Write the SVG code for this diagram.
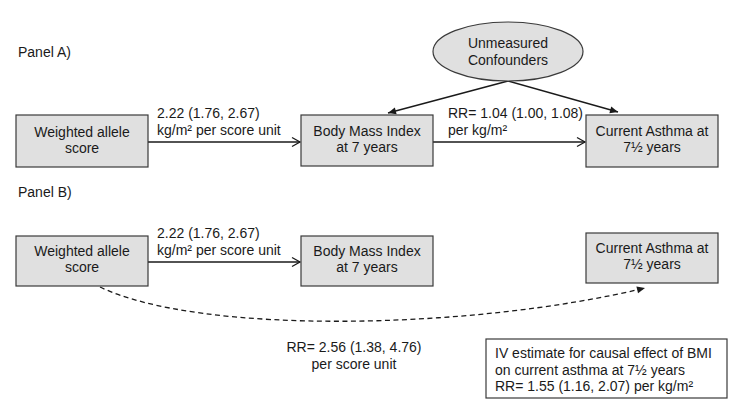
<svg xmlns="http://www.w3.org/2000/svg" width="745" height="419" viewBox="0 0 745 419">
<style>
text{font-family:"Liberation Sans",Arial,sans-serif;font-size:14px;fill:#1a1a1a}
.c{text-anchor:middle}
.box{fill:#e0e0e0;stroke:#3a3a3a;stroke-width:1.2}
.ibox{fill:#fff;stroke:#3a3a3a;stroke-width:1.2}
.ln{fill:none;stroke:#1a1a1a;stroke-width:1.3}
.dash{fill:none;stroke:#1a1a1a;stroke-width:1.3;stroke-dasharray:5,3.5}
</style>
<defs>
<marker id="open" markerUnits="userSpaceOnUse" markerWidth="12" markerHeight="12" viewBox="0 0 12 12" refX="10" refY="6" orient="auto">
<path d="M2,1.5 L10,6 L2,10.5" fill="none" stroke="#1a1a1a" stroke-width="1.3"/>
</marker>
<marker id="solid" markerUnits="userSpaceOnUse" markerWidth="10" markerHeight="10" viewBox="0 0 10 10" refX="9" refY="5" orient="auto">
<path d="M1,1.5 L9,5 L1,8.5 Z" fill="#1a1a1a"/>
</marker>
</defs>
<rect width="745" height="419" fill="#fff"/>
<text x="18" y="57">Panel A)</text>
<text x="18" y="197">Panel B)</text>
<g id="connectors">
<line class="ln" x1="148" y1="142" x2="300" y2="142" marker-end="url(#open)"/>
<line class="ln" x1="433" y1="142" x2="585" y2="142" marker-end="url(#open)"/>
<line class="ln" x1="508" y1="81" x2="388" y2="113" marker-end="url(#solid)"/>
<line class="ln" x1="508" y1="81" x2="618" y2="112" marker-end="url(#solid)"/>
<line class="ln" x1="148" y1="262" x2="300" y2="262" marker-end="url(#open)"/>
<path class="dash" d="M100,287 C200,335 470,330 645,288" marker-end="url(#solid)"/>
<text x="157" y="118">2.22 (1.76, 2.67)</text>
<text x="157" y="135">kg/m² per score unit</text>
<text x="448" y="118">RR= 1.04 (1.00, 1.08)</text>
<text x="448" y="135">per kg/m²</text>
<text x="157" y="238">2.22 (1.76, 2.67)</text>
<text x="157" y="255">kg/m² per score unit</text>
<text class="c" x="354" y="352">RR= 2.56 (1.38, 4.76)</text>
<text class="c" x="354" y="369">per score unit</text>
</g>
<g id="confounders">
<ellipse cx="508" cy="51.5" rx="75" ry="29.5" class="box"/>
<text class="c" x="508" y="48">Unmeasured</text>
<text class="c" x="508" y="65">Confounders</text>
</g>
<g id="allele-a">
<rect class="box" x="16" y="115" width="132" height="52"/>
<text class="c" x="82" y="137">Weighted allele</text>
<text class="c" x="82" y="153">score</text>
</g>
<g id="bmi-a">
<rect class="box" x="301" y="115" width="132" height="51"/>
<text class="c" x="367" y="136">Body Mass Index</text>
<text class="c" x="367" y="152">at 7 years</text>
</g>
<g id="asthma-a">
<rect class="box" x="586" y="115" width="132" height="52"/>
<text class="c" x="652" y="136">Current Asthma at</text>
<text class="c" x="652" y="152">7½ years</text>
</g>
<g id="allele-b">
<rect class="box" x="16" y="236" width="132" height="50"/>
<text class="c" x="82" y="256">Weighted allele</text>
<text class="c" x="82" y="272">score</text>
</g>
<g id="bmi-b">
<rect class="box" x="301" y="236" width="132" height="50"/>
<text class="c" x="367" y="256">Body Mass Index</text>
<text class="c" x="367" y="272">at 7 years</text>
</g>
<g id="asthma-b">
<rect class="box" x="586" y="233" width="132" height="50"/>
<text class="c" x="652" y="253">Current Asthma at</text>
<text class="c" x="652" y="269">7½ years</text>
</g>
<g id="iv-estimate">
<rect class="ibox" x="486" y="339" width="241" height="59"/>
<text x="495" y="358">IV estimate for causal effect of BMI</text>
<text x="495" y="375">on current asthma at 7½ years</text>
<text x="495" y="391">RR= 1.55 (1.16, 2.07) per kg/m²</text>
</g>
</svg>
